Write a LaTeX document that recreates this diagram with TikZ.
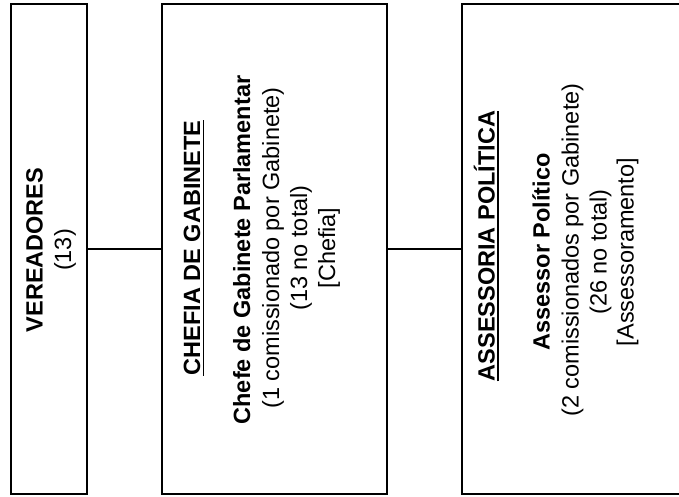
\documentclass[tikz,border=0pt]{standalone}
\usepackage{fontspec}
\setmainfont{Liberation Sans}
\begin{document}
\begin{tikzpicture}[x=1pt,y=-1pt,
  box/.style={draw, line width=2pt, inner sep=0pt},
  conn/.style={line width=1.6pt},
  lbl/.style={rotate=90, inner sep=0pt, anchor=base, font=\fontsize{23.5}{28}\selectfont},
  ulin/.style={line width=1.8pt}]
\useasboundingbox[fill=white] (0,0) rectangle (679,497);
% boxes
\node[box, minimum width=76pt, minimum height=490pt] (v) at (49,249) {};
\node[box, minimum width=225pt, minimum height=490pt] (c) at (274.5,249) {};
\node[box, minimum width=240pt, minimum height=490pt] (a) at (582,249) {};
% connectors
\draw[conn] (v.east) -- (c.west);
\draw[conn] (c.east) -- (a.west);
% box 1 text
\node[lbl] (v1) at (42.5,250) {\textbf{VEREADORES}};
\node[lbl] (v2) at (71,250) {(13)};
% box 2 text
\node[lbl] (c1) at (200,248) {\textbf{CHEFIA DE GABINETE}};
\draw[ulin] ([xshift=3pt]c1.south west) -- ([xshift=3pt]c1.south east);
\node[lbl] (c2) at (250,250) {\textbf{Chefe de Gabinete Parlamentar}};
\node[lbl] (c3) at (279,248) {(1 comissionado por Gabinete)};
\node[lbl] (c4) at (307,248) {(13 no total)};
\node[lbl] (c5) at (335,248) {[Chefia]};
% box 3 text
\node[lbl] (a1) at (494.5,246) {\textbf{ASSESSORIA POLÍTICA}};
\draw[ulin] ([xshift=3pt]a1.south west) -- ([xshift=3pt]a1.south east);
\node[lbl] (a2) at (549.5,252) {\textbf{Assessor Político}};
\node[lbl] (a3) at (578.5,250) {(2 comissionados por Gabinete)};
\node[lbl] (a4) at (606.5,252) {(26 no total)};
\node[lbl] (a5) at (633.5,252) {[Assessoramento]};
\end{tikzpicture}
\end{document}
